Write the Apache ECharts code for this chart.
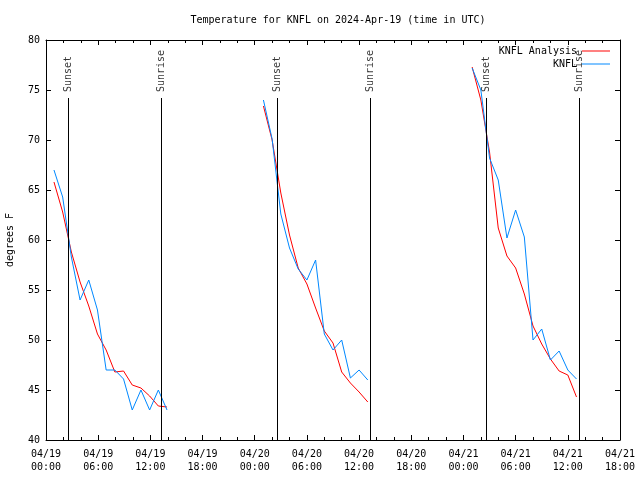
<!DOCTYPE html>
<html>
<head>
<meta charset="utf-8">
<script src="https://cdn.jsdelivr.net/npm/echarts@6/dist/echarts.min.js"></script>
<style>html,body{margin:0;padding:0;background:#fff}#c{width:640px;height:480px}</style>
</head>
<body>
<div id="c"></div>
<script>
const titleText = 'Temperature for KNFL on 2024-Apr-19 (time in UTC)';
const yAxisName = 'degrees F';
const seriesNames = ['KNFL Analysis', 'KNFL'];

const day1Times = ['2024-04-19 00:55','2024-04-19 01:55','2024-04-19 02:55','2024-04-19 03:55','2024-04-19 04:55','2024-04-19 05:55','2024-04-19 06:55','2024-04-19 07:55','2024-04-19 08:55','2024-04-19 09:55','2024-04-19 10:55','2024-04-19 11:55','2024-04-19 12:55','2024-04-19 13:55'];
const day2Times = ['2024-04-20 01:00','2024-04-20 02:00','2024-04-20 03:00','2024-04-20 04:00','2024-04-20 05:00','2024-04-20 06:00','2024-04-20 07:00','2024-04-20 08:00','2024-04-20 09:00','2024-04-20 10:00','2024-04-20 11:00','2024-04-20 12:00','2024-04-20 13:00'];
const day3Times = ['2024-04-21 01:00','2024-04-21 02:00','2024-04-21 03:00','2024-04-21 04:00','2024-04-21 05:00','2024-04-21 06:00','2024-04-21 07:00','2024-04-21 08:00','2024-04-21 09:00','2024-04-21 10:00','2024-04-21 11:00','2024-04-21 12:00','2024-04-21 13:00'];

const analysisDay1 = [65.8, 62.8, 58.8, 55.8, 53.4, 50.6, 49.0, 46.8, 46.9, 45.5, 45.2, 44.4, 43.4, 43.3];
const analysisDay2 = [73.4, 70.0, 64.7, 60.5, 57.2, 55.6, 53.2, 50.9, 49.7, 46.8, 45.7, 44.8, 43.8];
const analysisDay3 = [77.3, 74.0, 68.8, 61.2, 58.4, 57.2, 54.6, 51.4, 49.6, 48.1, 46.9, 46.5, 44.3];

const knflDay1 = [67.0, 64.3, 58.3, 54.0, 56.0, 53.0, 47.0, 47.0, 46.1, 43.0, 45.0, 43.0, 45.0, 43.0];
const knflDay2 = [74.0, 70.1, 62.6, 59.2, 57.1, 56.0, 58.0, 50.6, 49.0, 50.0, 46.2, 47.0, 46.0];
const knflDay3 = [77.2, 75.0, 68.2, 66.0, 60.2, 63.0, 60.3, 50.0, 51.1, 48.0, 48.9, 47.0, 46.1];

const sunsetTimes = ['2024-04-19 02:32', '2024-04-20 02:34', '2024-04-21 02:35'];
const sunriseTimes = ['2024-04-19 13:13', '2024-04-20 13:15', '2024-04-21 13:17'];

const xStart = '2024-04-19 00:00';
const xEnd = '2024-04-21 18:00';
const yTicks = [40, 45, 50, 55, 60, 65, 70, 75, 80];

function ts(s) {
  const [d, t] = s.split(' ');
  const [Y, M, D] = d.split('-').map(Number);
  const [h, m] = t.split(':').map(Number);
  return Date.UTC(Y, M - 1, D, h, m);
}
function buildSeg(segs) {
  const out = [];
  segs.forEach(([times, vals], i) => {
    if (i > 0) out.push([ts(times[0]), '-']);
    times.forEach((t, j) => out.push([ts(t), vals[j]]));
  });
  return out;
}
const pad = n => (n < 10 ? '0' : '') + n;
function fmtX(v) {
  const d = new Date(v);
  return pad(d.getUTCMonth() + 1) + '/' + pad(d.getUTCDate()) + '\n' + pad(d.getUTCHours()) + ':' + pad(d.getUTCMinutes());
}

const FONT = 'DejaVu Sans Mono';
const HOUR = 3600 * 1000;
const lineTop = 74.2;
const GRID = { left: 46, right: 20, top: 40, bottom: 40, containLabel: false, outerBoundsMode: 'none' };

const analysisData = buildSeg([[day1Times, analysisDay1], [day2Times, analysisDay2], [day3Times, analysisDay3]]);
const knflData = buildSeg([[day1Times, knflDay1], [day2Times, knflDay2], [day3Times, knflDay3]]);

const events = [];
sunsetTimes.forEach(t => events.push({ t: ts(t), label: 'Sunset' }));
sunriseTimes.forEach(t => events.push({ t: ts(t), label: 'Sunrise' }));

const axisCommon = {
  axisLine: { show: true, lineStyle: { color: '#000', width: 1 } },
  splitLine: { show: false }
};
const legendCommon = {
  right: 30, padding: 0, itemWidth: 28, itemHeight: 1, align: 'right', icon: 'rect',
  textStyle: { fontFamily: FONT, fontSize: 10, color: '#000' }
};

const chart = echarts.init(document.getElementById('c'), null, { renderer: 'canvas' });
chart.setOption({
  animation: false,
  backgroundColor: '#fff',
  title: {
    text: titleText, left: GRID.left + (640 - GRID.left - GRID.right) / 2, textAlign: 'center', top: 10,
    textStyle: { fontFamily: FONT, fontSize: 10, fontWeight: 'normal', color: '#000' }
  },
  legend: [
    Object.assign({ data: [seriesNames[0]], top: 46 }, legendCommon),
    Object.assign({ data: [seriesNames[1]], top: 59 }, legendCommon)
  ],
  grid: GRID,
  xAxis: [
    Object.assign({}, axisCommon, {
      type: 'value', position: 'bottom', min: ts(xStart), max: ts(xEnd), interval: 6 * HOUR,
      axisTick: { show: true, inside: true, length: 5, lineStyle: { color: '#000' } },
      minorTick: { show: true, splitNumber: 3, length: 3, lineStyle: { color: '#000' } },
      axisLabel: { formatter: fmtX, fontFamily: FONT, fontSize: 10, color: '#000', margin: 8, lineHeight: 13,
        showMinLabel: true, showMaxLabel: true }
    }),
    Object.assign({}, axisCommon, {
      type: 'value', position: 'top', min: ts(xStart), max: ts(xEnd), interval: 6 * HOUR,
      axisTick: { show: true, inside: true, length: 5, lineStyle: { color: '#000' } },
      minorTick: { show: true, splitNumber: 3, length: 3, lineStyle: { color: '#000' } },
      axisLabel: { show: false }
    })
  ],
  yAxis: [
    Object.assign({}, axisCommon, {
      type: 'value', position: 'left', min: yTicks[0], max: yTicks[yTicks.length - 1], interval: yTicks[1] - yTicks[0],
      axisTick: { show: true, inside: true, length: 5, lineStyle: { color: '#000' } },
      axisLabel: { fontFamily: FONT, fontSize: 10, color: '#000', margin: 6 },
      name: yAxisName, nameLocation: 'middle', nameGap: 31, nameRotate: 90,
      nameTextStyle: { fontFamily: FONT, fontSize: 10, color: '#000' }
    }),
    Object.assign({}, axisCommon, {
      type: 'value', position: 'right', min: yTicks[0], max: yTicks[yTicks.length - 1], interval: yTicks[1] - yTicks[0],
      axisTick: { show: true, inside: true, length: 5, lineStyle: { color: '#000' } },
      axisLabel: { show: false }
    })
  ],
  series: [
    {
      name: 'events', type: 'scatter', xAxisIndex: 0, yAxisIndex: 0, symbolSize: 0, silent: true,
      data: events.map(e => [e.t, lineTop, e.label]),
      label: { show: true, formatter: p => p.value[2], position: 'top', distance: 6, rotate: 90,
        align: 'left', verticalAlign: 'middle', fontFamily: FONT, fontSize: 10, color: '#000' },
      markLine: {
        silent: true, symbol: 'none', label: { show: false },
        lineStyle: { color: '#000', width: 1, type: 'solid' },
        data: events.map(e => [{ coord: [e.t, yTicks[0]] }, { coord: [e.t, lineTop] }])
      }
    },
    {
      name: seriesNames[0], type: 'line', data: analysisData, symbol: 'none', connectNulls: false,
      lineStyle: { color: '#ff0000', width: 1 }, itemStyle: { color: '#ff0000' }
    },
    {
      name: seriesNames[1], type: 'line', data: knflData, symbol: 'none', connectNulls: false,
      lineStyle: { color: '#0088ff', width: 1 }, itemStyle: { color: '#0088ff' }
    }
  ]
});
</script>
</body>
</html>
